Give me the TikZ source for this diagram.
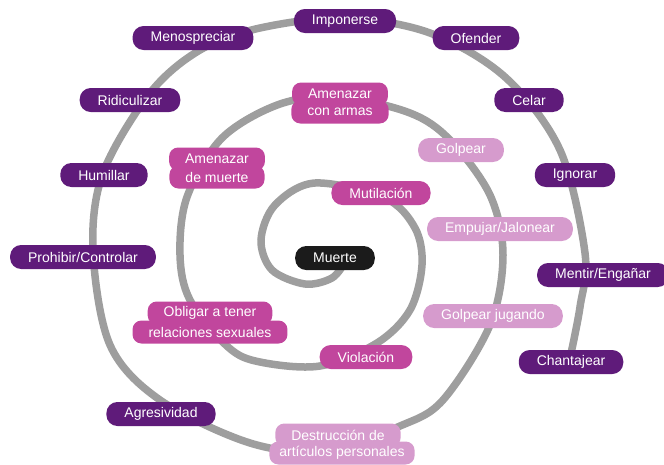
\documentclass[tikz,border=0pt]{standalone}
\usepackage{fontspec}
\setmainfont{Liberation Sans}
\definecolor{dpurple}{HTML}{5F1B7A}
\definecolor{mpink}{HTML}{C1469D}
\definecolor{lpink}{HTML}{D69BCD}
\definecolor{spiralgray}{HTML}{9E9E9E}
\definecolor{coreblack}{HTML}{1B1B1B}
\begin{document}
\begin{tikzpicture}[x=1pt,y=-1pt,
  lbl/.style={rounded corners=11pt, minimum height=24pt, inner xsep=18pt, inner ysep=0pt,
    text=white, font=\fontsize{14}{16}\selectfont},
  outerbox/.style={lbl, fill=dpurple},
  midbox/.style={lbl, fill=mpink},
  lightbox/.style={lbl, fill=lpink},
  corebox/.style={lbl, fill=coreblack},
  twoline/.style={minimum height=23pt, rounded corners=9pt, inner xsep=16pt},
  spiral/.style={draw=spiralgray, line width=7.5pt, line cap=round}
]
\useasboundingbox (0,0) rectangle (664,464);
% spiral
\draw[spiral] plot[smooth, tension=0.55] coordinates {
 (345,262) (332,278) (305,284) (272,270) (261,240) (275,205) (315,183)
 (385,198) (415,228) (422,265) (410,310) (377,343) (320,366) (260,362)
 (228,347) (190,300) (180,255) (187,197) (222,138) (280,104) (340,97)
 (410,113) (450,140) (490,195) (503,255) (490,325) (443,400) (400,426)
 (325,451) (250,443) (160,400) (110,345) (93,250) (103,173) (150,93)
 (200,50) (260,28) (345,18) (430,33) (505,77) (560,150) (585,253)
 (580,307) (570,358)};
% outer ring
\node[outerbox] (imponerse) at (345,21) {Imponerse};
\node[outerbox] (menospreciar) at (193,38) {Menospreciar};
\node[outerbox] (ofender) at (476,38) {Ofender};
\node[outerbox] (ridiculizar) at (130,100) {Ridiculizar};
\node[outerbox] (celar) at (529,100) {Celar};
\node[outerbox] (humillar) at (104,175) {Humillar};
\node[outerbox] (ignorar) at (575,175) {Ignorar};
\node[outerbox] (prohibir) at (83,257) {Prohibir/Controlar};
\node[outerbox] (mentir) at (603,275) {Mentir/Engañar};
\node[outerbox] (chantajear) at (571,362) {Chantajear};
\node[outerbox] (agresividad) at (161,414) {Agresividad};
% middle ring
\node[midbox, twoline] (armasA) at (340,94) {Amenazar};
\node[midbox, twoline] (armasB) at (340,112) {con armas};
\node[midbox, twoline] (muerteA) at (217,159) {Amenazar};
\node[midbox, twoline] (muerteB) at (217,177) {de muerte};
\node[midbox] (mutilacion) at (381,193) {Mutilación};
\node[midbox, twoline] (obligarA) at (210,313) {Obligar a tener};
\node[midbox, twoline] (obligarB) at (210,332) {relaciones sexuales};
\node[midbox] (violacion) at (366,357) {Violación};
% light ring
\node[lightbox] (golpear) at (461,150) {Golpear};
\node[lightbox] (empujar) at (500,229) {Empujar/Jalonear};
\node[lightbox] (jugando) at (493,316) {Golpear jugando};
\node[lightbox, twoline] (destA) at (338,435) {Destrucción de};
\node[lightbox, twoline, inner xsep=10pt] (destB) at (342,453) {artículos personales};
% core
\node[corebox] (muerte) at (335,258) {Muerte};
\end{tikzpicture}
\end{document}
